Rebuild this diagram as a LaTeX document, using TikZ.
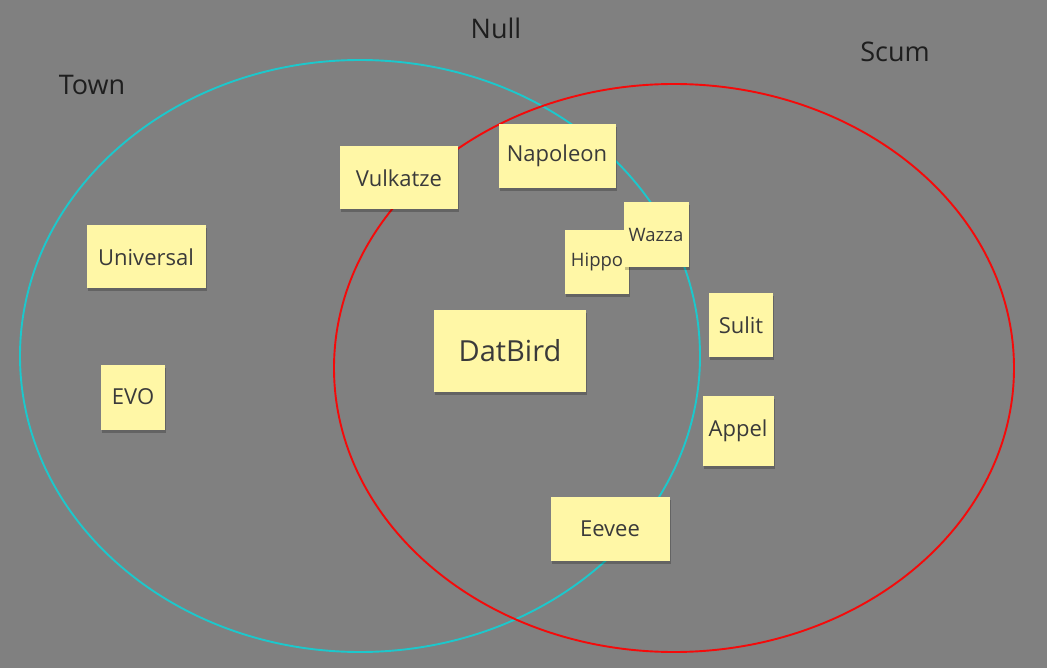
\documentclass[tikz,border=0pt]{standalone}
\usepackage{fontspec}
\setmainfont{Open Sans}
\usetikzlibrary{shadows}
\definecolor{bg}{HTML}{808080}
\definecolor{note}{HTML}{FFF7A6}
\definecolor{notetext}{HTML}{3A3A3A}
\definecolor{townc}{HTML}{1CC8CC}
\definecolor{scumc}{HTML}{F50A0A}
\definecolor{labelc}{HTML}{1E1E1E}
\tikzset{
  sticky/.style={fill=note, text=notetext, inner sep=0pt, align=center,
    drop shadow={shadow xshift=1pt, shadow yshift=-3pt, opacity=0.22, fill=black}},
  setlabel/.style={text=labelc, font=\fontsize{27}{32}\selectfont, inner sep=0pt},
  setring/.style={line width=1.9pt},
  normtext/.style={font=\fontsize{22}{26}\selectfont},
  smalltext/.style={font=\fontsize{18.5}{22}\selectfont}
}
\begin{document}
\begin{tikzpicture}[x=1pt,y=-1pt]
\fill[bg] (0,0) rectangle (1047,668);
\useasboundingbox (0,0) rectangle (1047,668);
\draw[setring, townc] (360,356) ellipse [x radius=340, y radius=296];
\draw[setring, scumc] (674,368) ellipse [x radius=340, y radius=284];
\node[setlabel] (town) at (92,85) {Town};
\node[setlabel] (null) at (496,28) {Null};
\node[setlabel] (scum) at (895,52) {Scum};
\node[sticky, normtext, minimum width=118pt, minimum height=63pt] (vulkatze) at (399,178) {Vulkatze};
\node[sticky, normtext, minimum width=117pt, minimum height=64pt] (napoleon) at (557,156) {Napoleon};
\node[sticky, normtext, minimum width=119pt, minimum height=63pt] (universal) at (146,257) {Universal};
\node[sticky, normtext, minimum width=64pt, minimum height=65pt] (evo) at (133,397) {EVO};
\node[sticky, smalltext, minimum width=64pt, minimum height=64pt] (hippo) at (597,262) {Hippo};
\node[sticky, smalltext, minimum width=65pt, minimum height=65pt] (wazza) at (656,235) {Wazza};
\node[sticky, minimum width=152pt, minimum height=82pt, font=\fontsize{29}{34}\selectfont] (datbird) at (510,351) {DatBird};
\node[sticky, normtext, minimum width=64pt, minimum height=64pt] (sulit) at (741,325) {Sulit};
\node[sticky, normtext, minimum width=71pt, minimum height=70pt] (appel) at (738,431) {Appel};
\node[sticky, normtext, minimum width=119pt, minimum height=64pt] (eevee) at (610,529) {Eevee};
\end{tikzpicture}
\end{document}
